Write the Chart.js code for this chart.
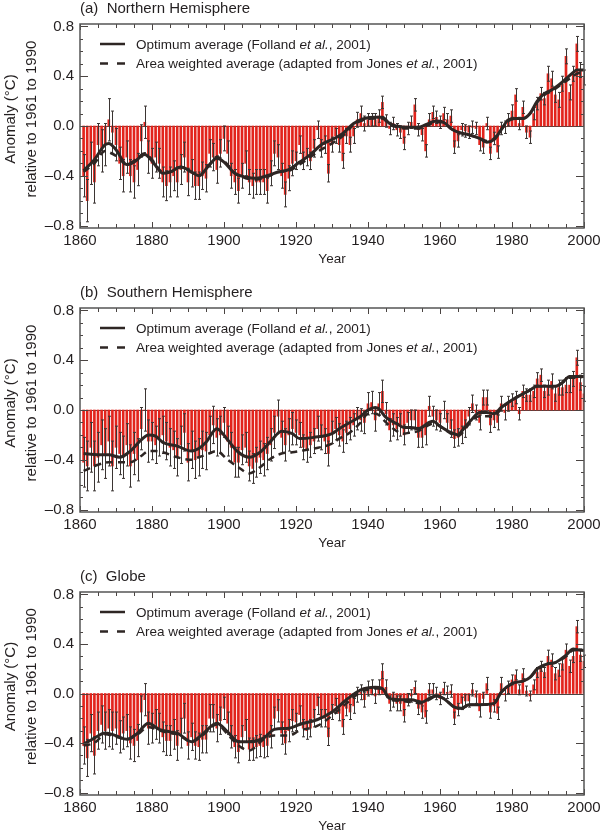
<!DOCTYPE html>
<html>
<head>
<meta charset="utf-8">
<script src="https://cdn.jsdelivr.net/npm/chart.js@4.4.1/dist/chart.umd.min.js"></script>
<style>
  body { margin: 0; background: #fff; width: 600px; height: 835px; position: relative; overflow: hidden; }
  .panel { position: absolute; left: 0; width: 600px; height: 275px; }
</style>
</head>
<body>
<div class="panel" style="top:0"><canvas id="nh" width="600" height="275"></canvas></div>
<div class="panel" style="top:280px"><canvas id="sh" width="600" height="275"></canvas></div>
<div class="panel" style="top:560px"><canvas id="gl" width="600" height="275"></canvas></div>
<script>
// annual anomalies (degC, rel. 1961-1990), 1861..2000, one row per decade
const firstYear = 1861;
const nhAnnual = [
  -0.40,-0.60,-0.30,-0.45,-0.15,-0.20,-0.15,0.05,-0.05,-0.15,
  -0.30,-0.40,-0.25,-0.40,-0.45,-0.35,-0.12,0.03,-0.25,-0.30,
  -0.25,-0.30,-0.45,-0.48,-0.45,-0.40,-0.45,-0.35,-0.25,-0.45,
  -0.38,-0.48,-0.48,-0.40,-0.42,-0.22,-0.25,-0.35,-0.22,-0.10,
  -0.22,-0.40,-0.45,-0.52,-0.40,-0.30,-0.45,-0.48,-0.45,-0.45,
  -0.45,-0.52,-0.38,-0.22,-0.25,-0.40,-0.55,-0.42,-0.30,-0.28,
  -0.15,-0.28,-0.25,-0.28,-0.18,-0.03,-0.18,-0.15,-0.38,-0.15,
  -0.08,-0.15,-0.28,-0.08,-0.15,-0.08,0.05,0.10,0.02,0.05,
  0.05,0.05,0.08,0.19,0.04,-0.02,0.02,-0.03,-0.05,-0.14,
  -0.02,0.03,0.17,-0.03,-0.07,-0.20,0.05,0.11,0.07,0.03,
  0.10,0.05,0.08,-0.17,-0.12,-0.03,-0.04,-0.05,-0.01,-0.02,
  -0.15,-0.17,0.02,-0.22,-0.10,-0.21,-0.02,-0.01,0.05,0.12,
  0.25,0.02,0.15,-0.05,-0.09,0.10,0.18,0.26,0.22,0.42,
  0.38,0.25,0.21,0.34,0.56,0.27,0.42,0.66,0.45,0.39
];
const shAnnual = [
  -0.42,-0.45,-0.30,-0.45,-0.38,-0.28,-0.35,-0.25,-0.45,-0.30,
  -0.35,-0.38,-0.28,-0.45,-0.35,-0.40,-0.15,0.00,-0.25,-0.25,
  -0.28,-0.22,-0.20,-0.25,-0.30,-0.32,-0.38,-0.28,-0.18,-0.42,
  -0.32,-0.40,-0.38,-0.32,-0.33,-0.20,-0.12,-0.22,-0.20,-0.10,
  -0.25,-0.30,-0.42,-0.42,-0.32,-0.30,-0.45,-0.47,-0.42,-0.38,
  -0.40,-0.35,-0.28,-0.18,-0.05,-0.22,-0.28,-0.20,-0.15,-0.18,
  -0.20,-0.30,-0.32,-0.28,-0.25,-0.15,-0.22,-0.25,-0.35,-0.18,
  -0.15,-0.20,-0.25,-0.18,-0.15,-0.12,-0.07,-0.08,-0.10,0.05,
  0.06,-0.08,0.05,0.15,-0.03,-0.16,-0.12,-0.15,-0.12,-0.20,
  -0.10,-0.08,-0.08,-0.22,-0.22,-0.20,0.03,-0.05,-0.08,-0.10,
  0.00,-0.10,-0.15,-0.23,-0.22,-0.20,-0.15,-0.05,0.05,-0.02,
  -0.10,0.10,0.10,-0.12,-0.08,-0.10,0.05,-0.02,0.05,0.08,
  0.10,-0.03,0.15,0.12,0.12,0.15,0.25,0.28,0.15,0.18,
  0.23,0.13,0.18,0.18,0.20,0.20,0.25,0.42,0.22,0.13
];
const glAnnual = [
  -0.42,-0.52,-0.32,-0.50,-0.30,-0.25,-0.30,-0.28,-0.30,-0.28,
  -0.35,-0.32,-0.30,-0.40,-0.42,-0.38,-0.15,-0.05,-0.28,-0.28,
  -0.25,-0.28,-0.35,-0.38,-0.38,-0.33,-0.42,-0.32,-0.20,-0.42,
  -0.35,-0.42,-0.43,-0.37,-0.37,-0.20,-0.20,-0.28,-0.22,-0.12,
  -0.24,-0.35,-0.43,-0.47,-0.35,-0.30,-0.45,-0.45,-0.43,-0.42,
  -0.43,-0.42,-0.35,-0.20,-0.14,-0.32,-0.40,-0.30,-0.22,-0.23,
  -0.17,-0.28,-0.30,-0.28,-0.20,-0.10,-0.20,-0.20,-0.35,-0.15,
  -0.10,-0.16,-0.27,-0.12,-0.15,-0.10,-0.01,0.01,-0.05,0.04,
  0.05,-0.02,0.05,0.18,0.05,-0.08,-0.05,-0.08,-0.08,-0.18,
  -0.05,-0.02,0.05,-0.12,-0.15,-0.19,0.03,0.03,0.00,-0.04,
  0.04,0.01,0.02,-0.20,-0.13,-0.08,-0.06,-0.06,0.03,-0.03,
  -0.14,-0.04,0.08,-0.15,-0.10,-0.16,0.08,-0.01,0.05,0.11,
  0.15,0.03,0.16,0.02,-0.02,0.07,0.17,0.22,0.17,0.30,
  0.27,0.16,0.19,0.24,0.35,0.22,0.30,0.54,0.31,0.26
];

// half-width of the error bars, per decade (1860s .. 2000)
const nhErr = [0.17, 0.13, 0.12, 0.11, 0.10, 0.10, 0.07, 0.06, 0.05, 0.05, 0.05, 0.05, 0.05, 0.06, 0.06];
const shErr = [0.20, 0.17, 0.15, 0.15, 0.12, 0.13, 0.10, 0.09, 0.09, 0.08, 0.07, 0.06, 0.05, 0.06, 0.06];
const glErr = [0.15, 0.13, 0.12, 0.11, 0.09, 0.09, 0.07, 0.06, 0.06, 0.05, 0.05, 0.05, 0.04, 0.05, 0.05];

// smoothed curves
const nhSmoothYears = [1861,1864,1867,1868,1870,1873,1875,1878,1880,1883,1885,1888,1891,1893,1896,1898,1900,1903,1906,1909,1912,1915,1918,1921,1924,1927,1930,1933,1936,1939,1942,1944,1946,1948,1951,1954,1956,1959,1961,1963,1965,1968,1971,1973,1975,1977,1979,1981,1983,1985,1987,1989,1991,1993,1995,1997,1998,2000];
const nhOptimum = [-0.36,-0.27,-0.15,-0.14,-0.19,-0.31,-0.29,-0.23,-0.28,-0.38,-0.37,-0.33,-0.37,-0.40,-0.31,-0.26,-0.29,-0.38,-0.41,-0.42,-0.40,-0.37,-0.35,-0.29,-0.23,-0.15,-0.11,-0.06,0.02,0.06,0.07,0.07,0.02,0.00,-0.01,-0.01,0.01,0.04,0.03,-0.02,-0.05,-0.07,-0.10,-0.13,-0.11,-0.03,0.05,0.06,0.06,0.10,0.20,0.26,0.29,0.33,0.38,0.43,0.45,0.45];
const nhAreaWeighted = [-0.37,-0.30,-0.20,-0.21,-0.24,-0.31,-0.28,-0.22,-0.27,-0.37,-0.37,-0.33,-0.37,-0.40,-0.31,-0.25,-0.28,-0.38,-0.42,-0.43,-0.41,-0.37,-0.36,-0.31,-0.25,-0.19,-0.14,-0.08,0.01,0.05,0.06,0.06,0.01,-0.01,-0.02,-0.02,0.00,0.03,0.03,-0.02,-0.05,-0.07,-0.10,-0.12,-0.10,-0.03,0.04,0.06,0.06,0.10,0.19,0.25,0.28,0.32,0.36,0.40,0.42,0.43];

const shSmoothYears = [1861,1865,1868,1871,1874,1877,1879,1881,1883,1887,1891,1893,1895,1898,1901,1904,1907,1910,1913,1916,1919,1921,1925,1930,1932,1935,1938,1940,1942,1943,1945,1948,1950,1952,1954,1957,1958,1960,1963,1965,1966,1969,1971,1973,1975,1977,1980,1983,1985,1987,1990,1992,1994,1996,1998,2000];
const shOptimum = [-0.35,-0.36,-0.36,-0.38,-0.33,-0.24,-0.20,-0.21,-0.26,-0.29,-0.33,-0.31,-0.26,-0.15,-0.24,-0.34,-0.38,-0.34,-0.25,-0.17,-0.19,-0.23,-0.22,-0.19,-0.15,-0.10,-0.05,0.00,0.02,0.01,-0.06,-0.11,-0.14,-0.14,-0.15,-0.10,-0.09,-0.13,-0.18,-0.20,-0.17,-0.07,-0.02,-0.02,-0.03,0.02,0.08,0.13,0.16,0.19,0.19,0.19,0.22,0.27,0.27,0.27];
const shAreaWeighted = [-0.49,-0.44,-0.42,-0.42,-0.42,-0.37,-0.33,-0.33,-0.34,-0.38,-0.40,-0.38,-0.36,-0.33,-0.40,-0.46,-0.51,-0.46,-0.39,-0.35,-0.34,-0.33,-0.31,-0.27,-0.23,-0.18,-0.10,-0.03,-0.03,-0.04,-0.10,-0.17,-0.19,-0.18,-0.17,-0.12,-0.11,-0.13,-0.19,-0.21,-0.19,-0.08,-0.05,-0.05,-0.05,0.01,0.08,0.13,0.16,0.19,0.19,0.19,0.22,0.26,0.26,0.27];

const glSmoothYears = [1861,1864,1867,1870,1873,1876,1879,1882,1885,1887,1891,1894,1898,1901,1904,1907,1911,1914,1918,1921,1926,1930,1934,1938,1942,1944,1946,1949,1952,1955,1957,1959,1961,1964,1966,1968,1971,1975,1977,1980,1983,1985,1987,1990,1992,1995,1997,1999,2000];
const glOptimum = [-0.41,-0.36,-0.32,-0.34,-0.37,-0.32,-0.24,-0.29,-0.31,-0.32,-0.39,-0.33,-0.24,-0.31,-0.39,-0.39,-0.36,-0.29,-0.28,-0.25,-0.21,-0.15,-0.05,0.03,0.05,0.04,-0.04,-0.05,-0.05,-0.07,-0.04,-0.02,-0.04,-0.11,-0.12,-0.09,-0.09,-0.08,0.01,0.08,0.10,0.13,0.20,0.24,0.25,0.31,0.36,0.35,0.35];
const glAreaWeighted = [-0.42,-0.40,-0.33,-0.35,-0.37,-0.33,-0.27,-0.30,-0.32,-0.33,-0.39,-0.34,-0.25,-0.33,-0.42,-0.46,-0.37,-0.34,-0.34,-0.30,-0.26,-0.18,-0.08,0.01,0.04,0.04,-0.05,-0.06,-0.07,-0.08,-0.05,-0.02,-0.04,-0.11,-0.12,-0.09,-0.09,-0.08,0.01,0.08,0.10,0.13,0.19,0.24,0.25,0.30,0.35,0.35,0.35];

const xTickYears = [1860, 1880, 1900, 1920, 1940, 1960, 1980, 2000];
const yTickValues = [-0.8, -0.4, 0.0, 0.4, 0.8];

const FONT = '"Liberation Sans", Arial, Helvetica, sans-serif';
const INK = '#231f20';
const BAR_RED = 'rgb(226,36,28)';
const LINE_COL = '#2e2624';

function fmtY(v) {
  if (Math.abs(v) < 1e-9) return '0.0';
  return v.toFixed(1).replace('-', '\u2013');
}

// frame, inward ticks, zero line, error bars and all the captions
const deco = {
  id: 'deco',
  beforeDatasetsDraw(chart) {
    const { ctx, chartArea: a, scales: { y } } = chart;
    const y0 = Math.round(y.getPixelForValue(0)) + 0.5;
    ctx.save();
    ctx.strokeStyle = '#4a4442';
    ctx.lineWidth = 1;
    ctx.beginPath();
    ctx.moveTo(a.left, y0);
    ctx.lineTo(a.right, y0);
    ctx.stroke();
    ctx.restore();
  },
  afterDatasetDraw(chart, args, opts) {
    if (args.index !== 0) return;
    const { ctx, scales: { x, y } } = chart;
    const pts = chart.data.datasets[0].data;
    ctx.save();
    ctx.strokeStyle = '#3b3533';
    ctx.lineWidth = 1;
    ctx.beginPath();
    pts.forEach(p => {
      const e = opts.err[Math.floor((p.x - 1860) / 10)];
      const px = Math.round(x.getPixelForValue(p.x)) + 0.5;
      const top = y.getPixelForValue(p.y + e);
      const bot = y.getPixelForValue(p.y - e);
      ctx.moveTo(px, top); ctx.lineTo(px, bot);
      ctx.moveTo(px - 1.5, top); ctx.lineTo(px + 1.5, top);
      ctx.moveTo(px - 1.5, bot); ctx.lineTo(px + 1.5, bot);
    });
    ctx.stroke();
    ctx.restore();
  },
  afterDraw(chart, args, opts) {
    const { ctx, chartArea: a, scales: { x, y } } = chart;
    ctx.save();
    // ticks
    ctx.strokeStyle = '#4a4442';
    ctx.lineWidth = 1;
    ctx.beginPath();
    for (let yr = 1860; yr <= 2000; yr += 5) {
      const px = Math.round(x.getPixelForValue(yr)) + 0.5;
      const len = yr % 20 === 0 ? 6 : 4;
      ctx.moveTo(px, a.bottom); ctx.lineTo(px, a.bottom - len);
      ctx.moveTo(px, a.top); ctx.lineTo(px, a.top + len);
    }
    for (let k = -8; k <= 8; k++) {
      const py = Math.round(y.getPixelForValue(k / 10)) + 0.5;
      const len = k % 4 === 0 ? 8 : 3;
      ctx.moveTo(a.left, py); ctx.lineTo(a.left + len, py);
      ctx.moveTo(a.right, py); ctx.lineTo(a.right - len, py);
    }
    ctx.stroke();
    // frame
    ctx.strokeStyle = '#555';
    ctx.lineWidth = 1.5;
    ctx.strokeRect(a.left, a.top, a.right - a.left, a.bottom - a.top);

    ctx.fillStyle = INK;
    // panel title
    ctx.font = '15px ' + FONT;
    ctx.textAlign = 'left';
    ctx.textBaseline = 'alphabetic';
    ctx.fillText(opts.label, a.left, a.top - 11);

    // legend
    const ly1 = a.top + 20, ly2 = a.top + 39.5;
    ctx.strokeStyle = LINE_COL;
    ctx.lineWidth = 2.5;
    ctx.beginPath();
    ctx.moveTo(100, ly1); ctx.lineTo(125, ly1);
    ctx.moveTo(100, ly2); ctx.lineTo(108, ly2);
    ctx.moveTo(117, ly2); ctx.lineTo(125, ly2);
    ctx.stroke();
    const legendLine = (parts, yy) => {
      let tx = 136;
      parts.forEach(([txt, it]) => {
        ctx.font = (it ? 'italic ' : '') + '13.5px ' + FONT;
        ctx.fillText(txt, tx, yy);
        tx += ctx.measureText(txt).width;
      });
    };
    ctx.textBaseline = 'middle';
    legendLine([['Optimum average (Folland ', false], ['et al.', true], [', 2001)', false]], ly1 + 1);
    legendLine([['Area weighted average (adapted from Jones ', false], ['et al.', true], [', 2001)', false]], ly2 + 1);

    // x axis title
    ctx.font = '13.5px ' + FONT;
    ctx.textAlign = 'center';
    ctx.fillText('Year', (a.left + a.right) / 2, a.bottom + 31.5);

    // y axis title (two rotated lines)
    const yc = (a.top + a.bottom) / 2 - 7;
    ctx.font = '15px ' + FONT;
    [['Anomaly (\u00B0C)', 11], ['relative to 1961 to 1990', 32]].forEach(([txt, xx]) => {
      ctx.save();
      ctx.translate(xx, yc);
      ctx.rotate(-Math.PI / 2);
      ctx.fillText(txt, 0, 0);
      ctx.restore();
    });
    ctx.restore();
  }
};

function makePanel(id, label, annual, err, smoothYears, optimum, areaWeighted, plotTop, plotH) {
  const canvasH = 275;
  new Chart(document.getElementById(id), {
    type: 'bar',
    data: {
      datasets: [
        {
          type: 'bar',
          data: annual.map((v, i) => ({ x: firstYear + i, y: v })),
          backgroundColor: BAR_RED,
          barThickness: 2,
          order: 3
        },
        {
          type: 'line',
          data: smoothYears.map((t, i) => ({ x: t, y: areaWeighted[i] })),
          borderColor: LINE_COL,
          borderWidth: 2.5,
          borderDash: [7, 5],
          pointRadius: 0,
          cubicInterpolationMode: 'monotone',
          order: 2
        },
        {
          type: 'line',
          data: smoothYears.map((t, i) => ({ x: t, y: optimum[i] })),
          borderColor: LINE_COL,
          borderWidth: 3,
          pointRadius: 0,
          cubicInterpolationMode: 'monotone',
          order: 1
        }
      ]
    },
    options: {
      responsive: false,
      animation: false,
      layout: { padding: { top: plotTop, right: 16, left: 0, bottom: 0 } },
      scales: {
        x: {
          type: 'linear',
          min: 1860,
          max: 2000,
          offset: false,
          grid: { display: false, drawTicks: false },
          border: { display: false },
          afterBuildTicks: s => { s.ticks = xTickYears.map(v => ({ value: v })); },
          afterFit: s => {
            s.height = canvasH - plotTop - plotH;
            s.paddingLeft = 0;
            s.paddingRight = 0;
          },
          ticks: {
            padding: 4,
            maxRotation: 0,
            autoSkip: false,
            color: INK,
            font: { size: 15, family: FONT },
            callback: v => String(v)
          }
        },
        y: {
          min: -0.82,
          max: 0.82,
          grid: { display: false, drawTicks: false },
          border: { display: false },
          afterBuildTicks: s => { s.ticks = yTickValues.map(v => ({ value: v })); },
          afterFit: s => { s.width = 80; s.paddingTop = 0; s.paddingBottom = 0; },
          ticks: {
            padding: 6,
            color: INK,
            font: { size: 15, family: FONT },
            callback: v => fmtY(v)
          }
        }
      },
      plugins: {
        legend: { display: false },
        tooltip: { enabled: false },
        deco: { label: label, err: err }
      }
    },
    plugins: [deco]
  });
}

makePanel('nh', '(a)  Northern Hemisphere', nhAnnual, nhErr, nhSmoothYears, nhOptimum, nhAreaWeighted, 24, 204);
makePanel('sh', '(b)  Southern Hemisphere', shAnnual, shErr, shSmoothYears, shOptimum, shAreaWeighted, 28, 204);
makePanel('gl', '(c)  Globe', glAnnual, glErr, glSmoothYears, glOptimum, glAreaWeighted, 32, 203);
</script>
</body>
</html>
